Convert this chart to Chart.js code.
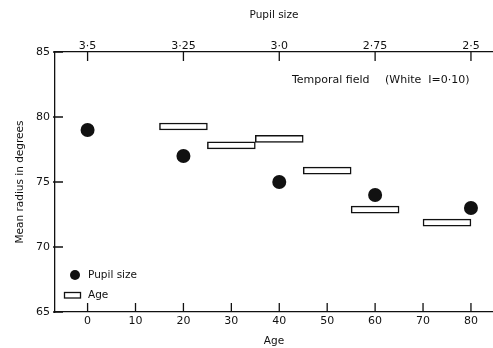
<!DOCTYPE html>
<html>
<head>
<meta charset="utf-8">
<script src="https://cdn.jsdelivr.net/npm/chart.js@4/dist/chart.umd.min.js"></script>
<style>
  html, body { margin: 0; padding: 0; background: #fff; }
  #wrap { width: 493px; height: 348px; }
</style>
</head>
<body>
<div id="wrap"><canvas id="c" width="493" height="348"></canvas></div>
<script>
// ---- data ----
const pupilSizes = [3.5, 3.25, 3.0, 2.75, 2.5];
const pupilRadius = [79, 77, 75, 74, 73];

const ageStart = [15, 25, 35, 45, 55, 70];
const ageEnd   = [25, 35, 45, 55, 65, 80];
const ageRadius = [79.0, 77.55, 78.05, 75.6, 72.6, 71.6];

const ageTicks = [0, 10, 20, 30, 40, 50, 60, 70, 80];
const pupilTicks = [3.5, 3.25, 3.0, 2.75, 2.5];
const pupilTickLabels = ['3·5', '3·25', '3·0', '2·75', '2·5'];
const radiusTicks = [65, 70, 75, 80, 85];

const annotationParts = ['Temporal field', '(White  I=0·10)'];
const legendLabels = ['Pupil size', 'Age'];

// ---- chart ----
const FONT = 'DejaVu Sans';
const INK = '#111';
const AGE_MIN = -6.8, AGE_MAX = 84.6;
// pupil axis is linear in age: pupil = 3.5 - age/80
const P_AT_MIN = 3.5 - AGE_MIN / 80, P_AT_MAX = 3.5 - AGE_MAX / 80;

const ageBars = ageStart.map((s, i) => ({ x: [s, ageEnd[i]], y: ageRadius[i] }));
const pupilPts = pupilSizes.map((p, i) => ({ x: p, y: pupilRadius[i] }));

const inwardTicks = {
  id: 'inwardTicks',
  afterDraw(chart) {
    const { ctx, chartArea: a, scales } = chart;
    ctx.save();
    ctx.strokeStyle = INK;
    ctx.lineWidth = 1.3;
    ctx.beginPath();
    scales.x.ticks.forEach(t => {
      const px = scales.x.getPixelForValue(t.value);
      ctx.moveTo(px, a.bottom); ctx.lineTo(px, a.bottom - 9);
    });
    scales.x2.ticks.forEach(t => {
      const px = scales.x2.getPixelForValue(t.value);
      ctx.moveTo(px, a.top); ctx.lineTo(px, a.top + 9);
    });
    scales.y.ticks.forEach(t => {
      const py = scales.y.getPixelForValue(t.value);
      ctx.moveTo(a.left - 2, py); ctx.lineTo(a.left + 8, py);
    });
    ctx.stroke();

    // annotation
    ctx.fillStyle = INK;
    ctx.font = '11px "' + FONT + '"';
    ctx.textBaseline = 'middle';
    ctx.textAlign = 'left';
    ctx.fillText(annotationParts[0], 292, 80);
    ctx.fillText(annotationParts[1], 385, 80);

    // legend
    ctx.font = '10.5px "' + FONT + '"';
    ctx.beginPath();
    ctx.arc(75, 275, 5, 0, Math.PI * 2);
    ctx.fill();
    ctx.lineWidth = 1.3;
    ctx.strokeRect(64.5, 292.5, 16, 5.5);
    ctx.fillText(legendLabels[0], 88, 275);
    ctx.fillText(legendLabels[1], 88, 295);
    ctx.restore();
  }
};

new Chart(document.getElementById('c'), {
  type: 'scatter',
  data: {
    datasets: [
      {
        type: 'bar',
        label: 'Age',
        indexAxis: 'y',
        data: ageBars,
        xAxisID: 'x',
        yAxisID: 'y',
        backgroundColor: '#fff',
        borderColor: INK,
        borderWidth: 1.5,
        borderSkipped: false,
        barThickness: 7
      },
      {
        type: 'scatter',
        label: 'Pupil size',
        data: pupilPts,
        xAxisID: 'x2',
        yAxisID: 'y',
        pointRadius: 7,
        pointBackgroundColor: INK,
        pointBorderWidth: 0
      }
    ]
  },
  options: {
    responsive: false,
    animation: false,
    layout: { padding: 0, autoPadding: false },
    plugins: { legend: { display: false }, tooltip: { enabled: false } },
    scales: {
      x: {
        type: 'linear',
        position: 'bottom',
        offset: false,
        min: AGE_MIN, max: AGE_MAX,
        afterBuildTicks: s => { s.ticks = ageTicks.map(v => ({ value: v })); },
        afterFit: s => { s.height = 36; s.paddingLeft = 0; s.paddingRight = 0; },
        grid: { display: true, drawOnChartArea: false, drawTicks: false, offset: false },
        border: { display: true, color: INK, width: 1.3 },
        ticks: { padding: 3, color: INK, font: { family: FONT, size: 11 }, maxRotation: 0, autoSkip: false },
        title: { display: true, text: 'Age', color: INK, font: { family: FONT, size: 10.5 }, padding: { top: 0, bottom: 0 } }
      },
      x2: {
        type: 'linear',
        position: 'top',
        reverse: true,
        offset: false,
        min: P_AT_MAX, max: P_AT_MIN,
        afterBuildTicks: s => { s.ticks = pupilTicks.map(v => ({ value: v })); },
        afterFit: s => { s.height = 52; s.paddingLeft = 0; s.paddingRight = 0; },
        grid: { display: true, drawOnChartArea: false, drawTicks: false, offset: false },
        border: { display: true, color: INK, width: 1.3 },
        ticks: {
          padding: -1, color: INK, font: { family: FONT, size: 11 }, maxRotation: 0, autoSkip: false,
          callback: (v) => { const i = pupilTicks.indexOf(v); return i >= 0 ? pupilTickLabels[i] : ''; }
        },
        title: { display: true, text: 'Pupil size', color: INK, font: { family: FONT, size: 10.5 }, padding: { top: 9, bottom: 0 } }
      },
      y: {
        type: 'linear',
        position: 'left',
        offset: false,
        min: 65, max: 85,
        afterBuildTicks: s => { s.ticks = radiusTicks.map(v => ({ value: v })); },
        afterFit: s => { s.width = 55; s.paddingTop = 0; s.paddingBottom = 0; },
        grid: { display: true, drawOnChartArea: false, drawTicks: false, offset: false },
        border: { display: true, color: INK, width: 1.3 },
        ticks: { padding: 5, color: INK, font: { family: FONT, size: 11 } },
        title: { display: true, text: 'Mean radius in degrees', color: INK, font: { family: FONT, size: 10.5 }, padding: { top: 14, bottom: 0 } }
      }
    }
  },
  plugins: [inwardTicks]
});
</script>
</body>
</html>
